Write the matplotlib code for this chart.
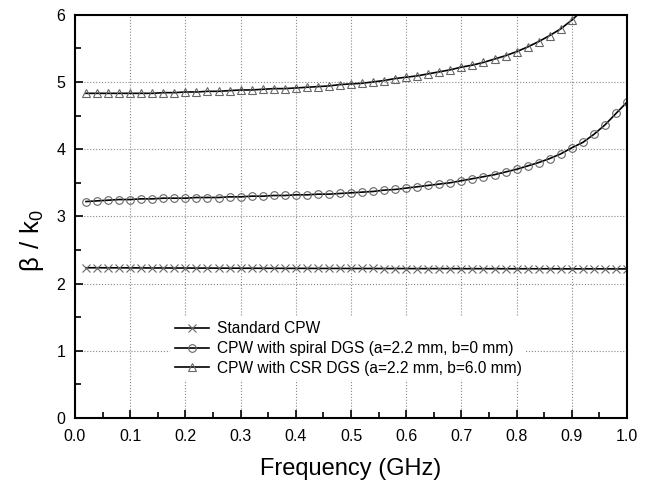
import matplotlib.pyplot as plt
from matplotlib.ticker import MultipleLocator

plt.rcParams['font.family'] = ['Liberation Sans', 'DejaVu Sans']

freq = [round(0.02 * i, 2) for i in range(1, 51)]

standard_cpw = [2.235, 2.235, 2.234, 2.234, 2.233, 2.233, 2.232, 2.232, 2.231, 2.231,
                2.230, 2.230, 2.229, 2.229, 2.228, 2.228, 2.227, 2.227, 2.226, 2.226,
                2.226, 2.225, 2.225, 2.225, 2.224, 2.224, 2.224, 2.223, 2.223, 2.223,
                2.222, 2.222, 2.222, 2.222, 2.221, 2.221, 2.221, 2.221, 2.220, 2.220,
                2.220, 2.220, 2.220, 2.219, 2.219, 2.219, 2.219, 2.219, 2.218, 2.218]

spiral_dgs = [3.22, 3.23, 3.24, 3.25, 3.25, 3.26, 3.26, 3.27, 3.27, 3.27,
              3.28, 3.28, 3.28, 3.29, 3.29, 3.30, 3.30, 3.31, 3.31, 3.32,
              3.32, 3.33, 3.33, 3.34, 3.35, 3.36, 3.37, 3.39, 3.40, 3.42,
              3.44, 3.46, 3.48, 3.50, 3.53, 3.56, 3.59, 3.62, 3.66, 3.70,
              3.75, 3.80, 3.86, 3.93, 4.02, 4.10, 4.22, 4.36, 4.53, 4.70]

csr_freq = freq[:46]
csr_dgs = [4.83, 4.83, 4.83, 4.83, 4.83, 4.83, 4.83, 4.84, 4.84, 4.85,
           4.85, 4.86, 4.86, 4.87, 4.88, 4.88, 4.89, 4.90, 4.90, 4.91,
           4.92, 4.93, 4.94, 4.96, 4.97, 4.98, 5.00, 5.02, 5.05, 5.07,
           5.09, 5.12, 5.15, 5.18, 5.22, 5.25, 5.29, 5.34, 5.39, 5.45,
           5.52, 5.60, 5.69, 5.79, 5.92, 6.07]

labels = ["Standard CPW",
          "CPW with spiral DGS (a=2.2 mm, b=0 mm)",
          "CPW with CSR DGS (a=2.2 mm, b=6.0 mm)"]

fig = plt.figure(figsize=(6.52, 4.83), dpi=100)
ax = fig.add_axes([0.115, 0.1346, 0.8467, 0.835])

mk = dict(color='black', lw=1.2, markersize=5.5, markerfacecolor='none',
          markeredgecolor='#666666', markeredgewidth=0.8)
ax.plot(freq, standard_cpw, marker='x', label=labels[0], **mk)
ax.plot(freq, spiral_dgs, marker='o', label=labels[1], **mk)
ax.plot(csr_freq, csr_dgs, marker='^', label=labels[2], **mk)

ax.set_xlim(0, 1.0)
ax.set_ylim(0, 6)
ax.xaxis.set_major_locator(MultipleLocator(0.1))
ax.xaxis.set_minor_locator(MultipleLocator(0.05))
ax.yaxis.set_major_locator(MultipleLocator(1))
ax.yaxis.set_minor_locator(MultipleLocator(0.5))
ax.xaxis.set_major_formatter(plt.FormatStrFormatter('%.1f'))

ax.tick_params(which='both', direction='in', top=False, right=False,
               labelsize=11.5, width=1.2)
ax.tick_params(which='major', length=6)
ax.tick_params(which='minor', length=4)
ax.tick_params(axis='x', pad=8)
ax.tick_params(axis='y', pad=7)
for s in ax.spines.values():
    s.set_linewidth(1.5)

ax.grid(True, which='major', linestyle=':', color='#888888', linewidth=0.8)
ax.set_axisbelow(True)

ax.set_xlabel("Frequency (GHz)", fontsize=17, labelpad=10)
ax.set_ylabel(r"$\mathregular{\beta\ /\ k_0}$", fontsize=18.5)
ax.yaxis.set_label_coords(-0.052, 0.44)

leg = ax.legend(loc='center left', bbox_to_anchor=(0.158, 0.172), fontsize=11.2,
                frameon=True, fancybox=False, edgecolor='none', framealpha=1,
                handlelength=2.2, handletextpad=0.5, labelspacing=0.3,
                borderpad=0.3)

fig.savefig("out.png", dpi=100)
